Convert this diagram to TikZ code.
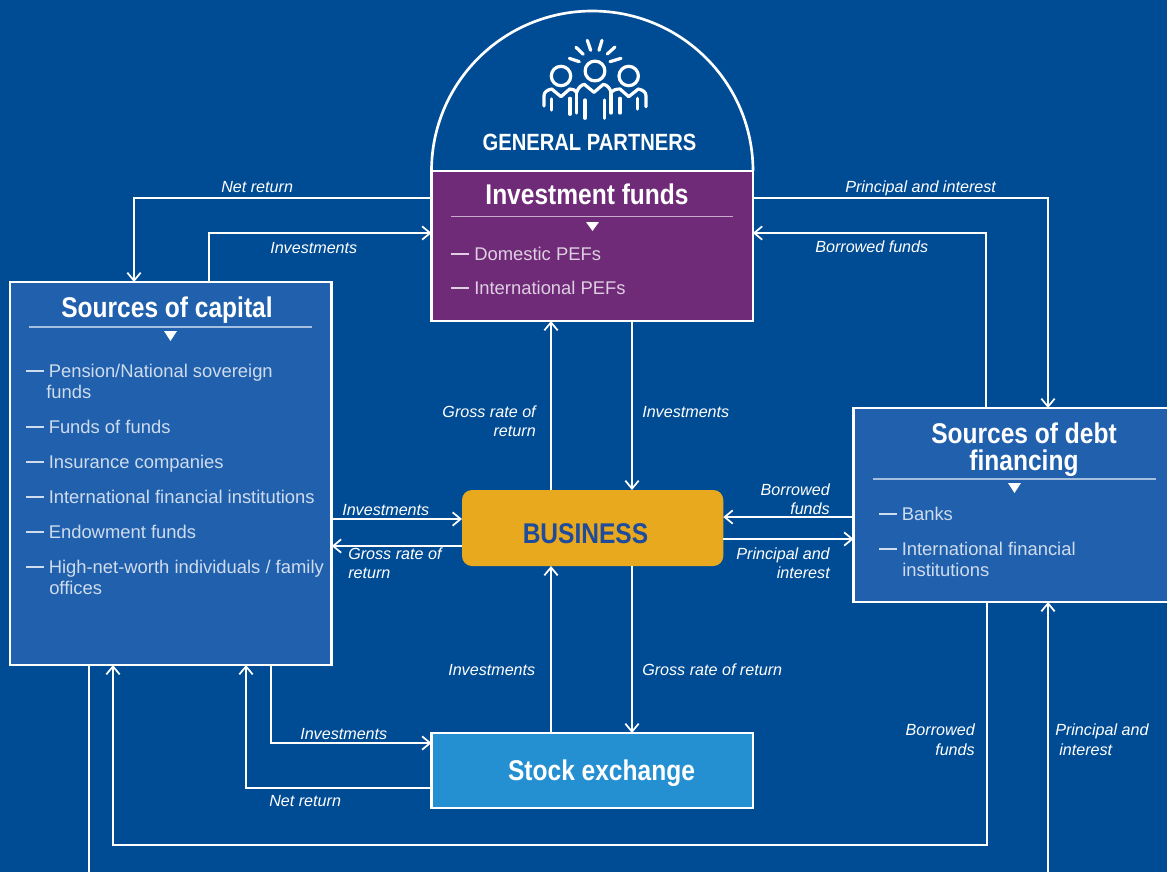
\documentclass[tikz,border=0pt]{standalone}
\usepackage{fontspec}
\setmainfont{Liberation Sans}
\newfontfamily\narrowfont[FakeStretch=0.86]{Liberation Sans}
\usetikzlibrary{arrows.meta,calc}
\definecolor{bg}{RGB}{0,76,148}
\definecolor{boxblue}{RGB}{33,96,173}
\definecolor{purp}{RGB}{111,42,120}
\definecolor{gold}{RGB}{233,169,30}
\definecolor{stockblue}{RGB}{36,144,210}
\definecolor{bizblue}{RGB}{30,75,155}
\tikzset{
  box/.style={draw=white,line width=2pt,inner sep=0pt,outer sep=0pt,anchor=north west},
  conn/.style={draw=white,line width=1.5pt},
  arr/.style={conn,-{Straight Barb[length=6pt,width=10pt,line width=1.3pt]}},
  lab/.style={text=white,font=\fontsize{12.1pt}{14.6pt}\selectfont\itshape,inner sep=0pt,align=left},
  labr/.style={lab,align=right},
  ttl/.style={text=white,font=\narrowfont\bfseries\fontsize{21.4pt}{19.9pt}\selectfont,inner sep=0pt,align=center},
  item/.style={text=#1,font=\fontsize{13.8pt}{15.6pt}\selectfont,inner sep=0pt,anchor=base west,align=left},
  item/.default={white!78!boxblue},
  dashm/.style={draw=#1,line width=1.2pt},
  dashm/.default={white!78!boxblue},
  rulel/.style={draw=white!60!boxblue,line width=1pt},
  tri/.style={fill=white,draw=none},
  icon/.style={draw=white,line width=2.4pt,line cap=round,line join=round}
}
\newcommand{\itm}[4]{%
  \draw[dashm] (#1,#2-6) -- ++(18,0);
  \node[item] (#3) at (#1+22.5,#2) {#4};
}
\begin{document}
\begin{tikzpicture}[x=0.75pt,y=-0.75pt]
\useasboundingbox (0,0) rectangle (1167,872);
\fill[bg] (0,0) rectangle (1167,872);
\begin{scope}
\clip (0,0) rectangle (1167,872);
% boxes
\draw[white,line width=2pt] (431.5,171) arc[start angle=180,end angle=360,x radius=160.75,y radius=160];
\node[box,fill=purp,minimum width=241pt,minimum height=112.5pt] (funds) at (431.5,171) {};
\node[box,fill=boxblue,minimum width=241.35pt,minimum height=287.25pt] (cap) at (10,282) {};
\node[box,fill=boxblue,minimum width=241pt,minimum height=145.5pt] (debt) at (853.5,408) {};
\node[draw=none,fill=gold,rounded corners=7.5pt,minimum width=196pt,minimum height=57pt,inner sep=0pt,outer sep=0pt,anchor=north west] (biz) at (462,490) {};
\node[box,fill=stockblue,minimum width=241pt,minimum height=56.25pt] (stock) at (431.5,733) {};
% connectors
\draw[arr] (funds.west |- 0,198) -| (cap.north -| 134,0);
\draw[arr] (cap.north -| 209,0) |- (funds.west |- 0,233);
\draw[arr] (funds.east |- 0,198) -| (debt.north -| 1048,0);
\draw[arr] (debt.north -| 986,0) |- (funds.east |- 0,233);
\draw[arr] (biz.north -| 551,0) -- (funds.south -| 551,0);
\draw[arr] (funds.south -| 632,0) -- (biz.north -| 632,0);
\draw[arr] (cap.east |- 0,519) -- (biz.west |- 0,519);
\draw[arr] (biz.west |- 0,546) -- (cap.east |- 0,546);
\draw[arr] (debt.west |- 0,517) -- (biz.east |- 0,517);
\draw[arr] (biz.east |- 0,539) -- (debt.west |- 0,539);
\draw[arr] (stock.north -| 551,0) -- (biz.south -| 551,0);
\draw[arr] (biz.south -| 632,0) -- (stock.north -| 632,0);
\draw[arr] (cap.south -| 271,0) |- (stock.west |- 0,743);
\draw[arr] (stock.west |- 0,788) -| (cap.south -| 246,0);
\draw[arr] (debt.south -| 987,0) |- (113,845) -- (cap.south -| 113,0);
\coordinate (capout) at (89,874);
\coordinate (debtin) at (1048,874);
\draw[conn] (cap.south -| 89,0) -- (capout);
\draw[arr] (debtin) -- (debt.south -| 1048,0);
% icon rays
\foreach \a/\b/\c/\d in {569.3/58.3/579.3/61.7, 576/47.3/583.3/54.3, 587.3/40.3/590.7/50.3, 602/40.3/599/50.3, 615/47/607.3/54, 621/58.3/610/61.7}
  {\draw[icon] (\a,\b) -- (\c,\d);}
% heads
\draw[icon] (561,76) circle[radius=9.7];
\draw[icon] (595,71) circle[radius=9.9];
\draw[icon] (628.7,76) circle[radius=9.7];
% shoulders
\draw[icon] (544,106) -- (544,96) .. controls (544,92) and (547,90) .. (551.7,89) -- (561,96.7) -- (569.7,89) .. controls (573,89) and (575,90) .. (576.7,92.3)
  .. controls (578,88) and (581,85) .. (584.3,84.3) -- (594,92.3) -- (603.3,84.3) .. controls (607,85) and (610,88) .. (611,92.3)
  .. controls (613,90) and (616,89) .. (620,89) -- (628.7,96.7) -- (638.3,89) .. controls (643,90) and (646,92) .. (646,96) -- (646,106.7);
\foreach \a/\b/\d in {551.7/99/110, 570/98.3/114.3, 576.7/92/113, 585/100/118.3, 604.3/100/118.3, 611/92/113, 620/98.3/113, 637.7/98.3/109}
  {\draw[icon] (\a,\b) -- (\a,\d);}
% header
\node[text=white,font=\narrowfont\bfseries\fontsize{17.6pt}{20pt}\selectfont,inner sep=0pt,anchor=base] (gp) at (589.5,150) {GENERAL PARTNERS};
% funds content
\node[ttl,anchor=base] (fundst) at (587,204) {Investment funds};
\draw[draw=white!60!purp,line width=1pt] (451,216.5) -- (733,216.5);
\fill[tri] (586,222) -- (599,222) -- (592.5,231) -- cycle;
\draw[dashm={white!78!purp}] (451,254) -- ++(18,0);
\node[item={white!78!purp}] (f1) at (474,260) {Domestic PEFs};
\draw[dashm={white!78!purp}] (451,288) -- ++(18,0);
\node[item={white!78!purp}] (f2) at (474,294) {International PEFs};
% capital content
\node[ttl,anchor=base] (capt) at (167,317) {Sources of capital};
\draw[rulel] (29,327) -- (312,327);
\fill[tri] (164,331) -- (177,331) -- (170.5,341) -- cycle;
\itm{26}{377}{c1}{Pension/National sovereign}
\node[item] (c1b) at (46,398) {funds};
\itm{26}{433}{c2}{Funds of funds}
\itm{26}{468}{c3}{Insurance companies}
\itm{26}{503}{c4}{International financial institutions}
\itm{26}{538}{c5}{Endowment funds}
\itm{26}{573}{c6}{High-net-worth individuals / family}
\node[item] (c6b) at (49,594) {offices};
% debt content
\node[ttl] (debtt) at (1024,449.5) {Sources of debt\\financing};
\draw[rulel] (873,479) -- (1156,479);
\fill[tri] (1008,483) -- (1021,483) -- (1014.5,493) -- cycle;
\itm{879}{520}{d1}{Banks}
\itm{879}{555}{d2}{International financial}
\node[item] (d2b) at (902,576) {institutions};
% business, stock
\node[text=bizblue,font=\narrowfont\bfseries\fontsize{21.4pt}{24pt}\selectfont,inner sep=0pt,anchor=base] (bizt) at (585.5,543) {BUSINESS};
\node[ttl,anchor=base] (stockt) at (601.5,780) {Stock exchange};
% labels
\node[lab,anchor=west] (l1) at (221,187) {Net return};
\node[lab,anchor=west] (l2) at (270,248) {Investments};
\node[lab,anchor=west] (l3) at (845,188) {Principal and interest};
\node[lab,anchor=west] (l4) at (815,247) {Borrowed funds};
\node[labr,anchor=east] (l5) at (536,421) {Gross rate of\\return};
\node[lab,anchor=west] (l6) at (642,412) {Investments};
\node[lab,anchor=west] (l7) at (342,510) {Investments};
\node[lab,anchor=west] (l8) at (348,563) {Gross rate of\\return};
\node[labr,anchor=east] (l9) at (830,499) {Borrowed\\funds};
\node[labr,anchor=east] (l10) at (830,563) {Principal and\\interest};
\node[lab,anchor=west] (l11) at (448,670) {Investments};
\node[lab,anchor=west] (l12) at (642,670) {Gross rate of return};
\node[lab,anchor=west] (l13) at (300,734) {Investments};
\node[lab,anchor=west] (l14) at (269,801) {Net return};
\node[labr,anchor=east] (l15) at (975,739.5) {Borrowed\\funds};
\node[lab,anchor=west] (l16) at (1055,739.5) {Principal and\\\hspace*{3pt}interest};
\end{scope}
\end{tikzpicture}
\end{document}
